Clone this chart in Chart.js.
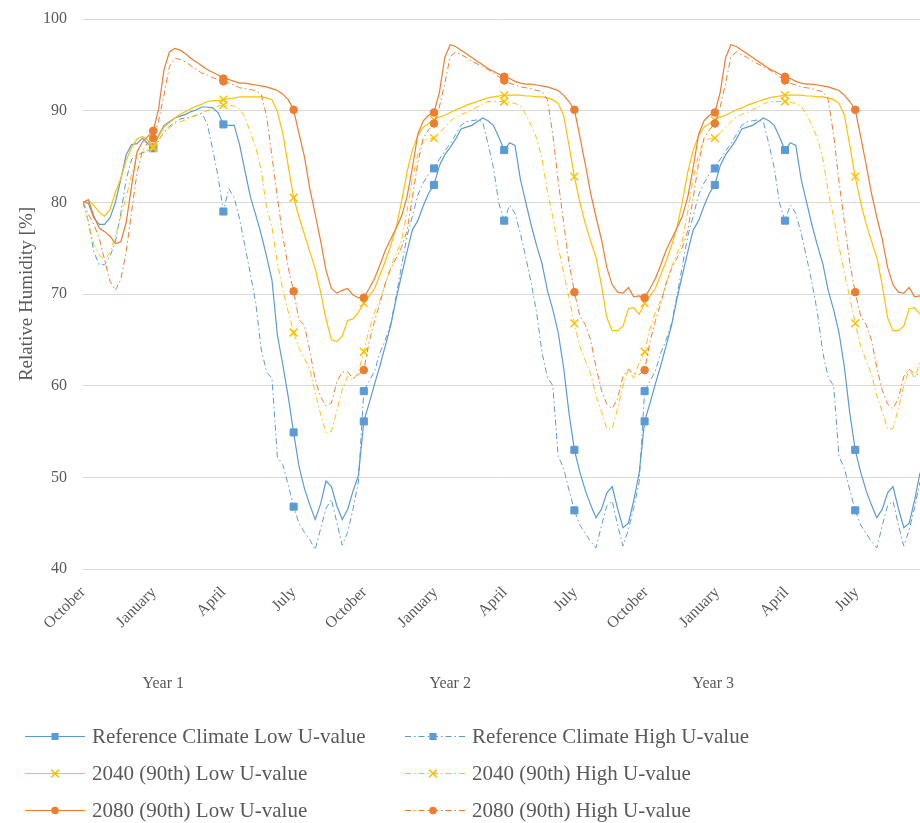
<!DOCTYPE html>
<html>
<head>
<meta charset="utf-8">
<script src="https://cdn.jsdelivr.net/npm/chart.js@4.4.1/dist/chart.umd.min.js"></script>
<style>
  html, body { margin: 0; padding: 0; background: #ffffff; }
  #wrap { width: 920px; height: 823px; }
</style>
</head>
<body>
<div id="wrap"><canvas id="c" width="920" height="823"></canvas></div>
<script>
// ---------------- DATA (weekly readings, day 0 = 1 October, Year 1) ----------------
const tickLabels = ['October','January','April','July','October','January','April','July','October','January','April','July'];
const tickDays   = [0, 92, 182, 273, 365, 457, 547, 638, 730, 822, 912, 1003];
const yearLabels = ['Year 1', 'Year 2', 'Year 3'];
const seriesNames = [
  'Reference Climate Low U-value', 'Reference Climate High U-value',
  '2040 (90th) Low U-value', '2040 (90th) High U-value',
  '2080 (90th) Low U-value', '2080 (90th) High U-value'
];

const refLowY1 = [80,79.9,78.3,77.6,77.6,78.3,80.0,82.5,85.2,86.3,86.4,87.0,86.4,86.0,87.3,88.4,88.8,89.2,89.4,89.6,89.9,90.1,90.4,90.4,90.3,89.8,88.5,88.4,88.4,86.3,83.4,80.6,78.6,76.5,74.1,71.5,65.5,62.3,58.8,54.9,51.2,48.8,47.0,45.4,47.1,49.6,49.0,46.9,45.4,46.5,48.5,50.2];
const refLowY2 = [56.1,58.1,60.2,62.2,64.4,66.6,69.5,72.1,74.6,77.0,78.0,79.6,81.0,81.9,84.0,85.2,86.0,86.9,88.0,88.2,88.4,88.8,89.2,88.9,88.4,87.1,85.7,86.5,86.2,82.5,80.0,77.5,75.3,73.3,70.4,68.3,65.8,62.0,57.0,53.0,50.6,48.6,47.0,45.6,46.5,48.3,49.0,46.6,44.5,45.0,47.5,50.5];
const refLowY3 = [56.1,58.1,60.2,62.2,64.4,66.6,69.5,72.1,74.6,77.0,78.0,79.6,81.0,81.9,84.0,85.2,86.0,86.9,88.0,88.2,88.4,88.8,89.2,88.9,88.4,87.1,85.7,86.5,86.2,82.5,80.0,77.5,75.3,73.3,70.4,68.3,65.8,62.0,57.0,53.0,50.6,48.6,47.0,45.6,46.5,48.3,49.0,46.6,44.5,45.0,47.5,50.5];

const refHighY1 = [80,77.9,74.6,73.2,73.2,74.1,75.7,78.8,82.5,84.7,85.2,85.4,85.6,85.9,86.7,87.7,88.3,88.7,89.1,89.2,89.3,89.5,89.7,88.6,85.8,82.9,79.0,81.5,80.5,78.2,75.2,72.2,69.0,64.0,61.5,60.8,52.2,51.4,49.2,46.8,45.0,44.0,43.2,42.1,44.4,46.6,47.6,45.1,42.6,44.0,46.5,49.5];
const refHighY2 = [59.4,60.5,61.6,63.6,65.0,66.8,69.8,73.1,76.3,78.5,80.8,82.1,83.1,83.7,84.7,85.6,86.4,87.4,88.4,88.8,88.9,89.0,88.8,86.4,83.8,79.9,78.0,79.7,78.8,76.6,74.0,71.2,68.0,63.6,60.9,60.0,52.3,51.0,48.6,46.4,44.8,43.9,43.0,42.3,44.7,46.9,47.4,44.8,42.5,44.3,46.7,49.5];
const refHighY3 = [59.4,60.5,61.6,63.6,65.0,66.8,69.8,73.1,76.3,78.5,80.8,82.1,83.1,83.7,84.7,85.6,86.4,87.4,88.4,88.8,88.9,89.0,88.8,86.4,83.8,79.9,78.0,79.7,78.8,76.6,74.0,71.2,68.0,63.6,60.9,60.0,52.3,51.0,48.6,46.4,44.8,43.9,43.0,42.3,44.7,46.9,47.4,44.8,42.5,44.3,46.7,49.5];

const f2040LowY1 = [80,80.2,79.7,78.9,78.5,79.2,81.1,82.6,84.6,86.0,86.9,87.2,86.8,86.1,87.2,88.2,88.7,89.2,89.6,89.9,90.2,90.5,90.7,91.0,91.1,91.1,91.2,91.3,91.4,91.5,91.5,91.5,91.5,91.5,91.4,91.2,89.9,87.5,84.0,80.5,78.4,76.5,74.6,72.8,70.2,67.3,65.0,64.8,65.4,67.1,67.3,68.0];
const f2040LowY2 = [69.0,69.8,70.6,72.1,73.6,75.3,77.3,80.1,83.3,85.7,87.3,88.2,88.6,89.0,89.3,89.5,89.8,90.1,90.3,90.6,90.8,91.0,91.2,91.4,91.5,91.6,91.7,91.7,91.7,91.7,91.6,91.6,91.5,91.5,91.4,91.2,90.8,89.5,86.2,82.8,80.0,77.7,75.8,74.0,71.0,67.4,66.0,66.0,66.5,68.4,68.5,67.8];
const f2040LowY3 = [69.0,69.8,70.6,72.1,73.6,75.3,77.3,80.1,83.3,85.7,87.3,88.2,88.6,89.0,89.3,89.5,89.8,90.1,90.3,90.6,90.8,91.0,91.2,91.4,91.5,91.6,91.7,91.7,91.7,91.7,91.6,91.6,91.5,91.5,91.4,91.2,90.8,89.5,86.2,82.8,80.0,77.7,75.8,74.0,71.0,67.4,66.0,66.0,66.5,68.4,68.5,67.8];

const f2040HighY1 = [80,77.9,75.4,74.3,73.6,74.6,76.3,78.4,80.6,83.0,85.0,85.5,85.7,85.9,86.8,87.6,88.1,88.6,88.8,89.0,89.3,89.5,89.8,90.0,90.3,90.5,90.6,90.6,90.5,90.2,89.3,87.6,86.0,83.5,79.4,77.3,73.4,70.5,68.1,65.8,64.1,63.0,61.8,59.2,56.9,54.9,55.0,57.2,59.6,61.0,60.6,61.5];
const f2040HighY2 = [63.7,66.2,68.0,69.3,71.1,73.0,74.4,75.8,79.0,82.6,85.2,86.8,86.9,87.0,87.6,88.2,88.8,89.3,89.6,89.8,90.1,90.4,90.7,91.0,91.0,91.0,91.0,90.9,90.8,90.5,89.6,88.4,87.0,84.8,81.2,78.4,75.2,72.3,69.6,66.8,64.3,62.8,61.3,58.9,57.2,55.3,55.3,57.5,60.0,61.8,60.8,62.5];
const f2040HighY3 = [63.7,66.2,68.0,69.3,71.1,73.0,74.4,75.8,79.0,82.6,85.2,86.8,86.9,87.0,87.6,88.2,88.8,89.3,89.6,89.8,90.1,90.4,90.7,91.0,91.0,91.0,91.0,90.9,90.8,90.5,89.6,88.4,87.0,84.8,81.2,78.4,75.2,72.3,69.6,66.8,64.3,62.8,61.3,58.9,57.2,55.3,55.3,57.5,60.0,61.8,60.8,62.5];

const f2080LowY1 = [80,80.3,78.5,77.2,76.8,76.3,75.5,75.7,77.8,81.8,85.5,86.6,87.2,87.8,90.2,94.5,96.4,96.8,96.6,96.2,95.7,95.3,94.9,94.5,94.2,93.9,93.5,93.4,93.2,93.0,93.0,92.9,92.8,92.7,92.6,92.4,92.2,91.8,91.2,90.1,87.5,85.0,81.5,78.7,75.8,72.6,70.6,70.1,70.4,70.6,69.9,69.6];
const f2080LowY2 = [69.6,70.6,71.7,73.2,74.8,76.0,77.2,78.5,80.6,83.8,87.4,88.9,89.5,89.8,92.0,95.8,97.2,97.0,96.6,96.2,95.8,95.4,95.0,94.6,94.3,94.0,93.7,93.5,93.2,93.0,92.9,92.9,92.8,92.7,92.6,92.4,92.2,91.7,91.0,90.1,87.2,84.2,81.0,78.4,76.0,72.9,71.0,70.2,70.1,70.7,69.7,69.8];
const f2080LowY3 = [69.6,70.6,71.7,73.2,74.8,76.0,77.2,78.5,80.6,83.8,87.4,88.9,89.5,89.8,92.0,95.8,97.2,97.0,96.6,96.2,95.8,95.4,95.0,94.6,94.3,94.0,93.7,93.5,93.2,93.0,92.9,92.9,92.8,92.7,92.6,92.4,92.2,91.7,91.0,90.1,87.2,84.2,81.0,78.4,76.0,72.9,71.0,70.2,70.1,70.7,69.7,69.8];

const f2080HighY1 = [80,78.7,77.6,76.1,73.7,71.4,70.4,71.6,74.6,79.0,83.2,85.6,86.5,87.0,88.9,91.7,94.8,95.7,95.6,95.3,94.9,94.5,94.1,93.9,93.6,93.4,93.2,93.0,92.8,92.5,92.4,92.3,92.2,91.8,89.4,85.0,80.5,76.3,72.9,70.3,67.2,66.6,63.8,60.6,58.8,57.8,58.1,60.4,61.5,61.5,60.8,61.2];
const f2080HighY2 = [61.7,64.8,67.1,69.0,71.2,72.8,73.9,75.1,76.9,80.5,84.3,87.0,87.9,88.6,90.4,93.0,95.9,96.4,96.1,95.8,95.4,95.1,94.8,94.5,94.1,93.7,93.3,93.0,92.8,92.6,92.5,92.4,92.2,92.1,91.2,87.4,82.3,77.8,73.4,70.2,67.6,66.7,65.0,62.0,59.5,58.0,57.5,58.6,61.0,61.8,61.3,61.2];
const f2080HighY3 = [61.7,64.8,67.1,69.0,71.2,72.8,73.9,75.1,76.9,80.5,84.3,87.0,87.9,88.6,90.4,93.0,95.9,96.4,96.1,95.8,95.4,95.1,94.8,94.5,94.1,93.7,93.3,93.0,92.8,92.6,92.5,92.4,92.2,92.1,91.2,87.4,82.3,77.8,73.4,70.2,67.6,66.7,65.0,62.0,59.5,58.0,57.5,58.6,61.0,61.8,61.3,61.2];

// ---------------- STYLE / LAYOUT ----------------
const DAYS_PER_STEP = 7;
const X_MAX = 1085;
const BLUE = '#5B9BD5', YELLOW = '#FFC000', ORANGE = '#ED7D31';
const TEXT = '#595959';
const FONT = '"Liberation Serif", "Times New Roman", serif';
const DASH = [6, 3, 1.5, 3];
const MARKER_EVERY = 13;
const yearLabelDays = [104, 476, 817];

function build(a, b, c) {
  return a.concat(b, c).map((v, i) => ({ x: i * DAYS_PER_STEP, y: v }));
}

const seriesData = [
  build(refLowY1, refLowY2, refLowY3),
  build(refHighY1, refHighY2, refHighY3),
  build(f2040LowY1, f2040LowY2, f2040LowY3),
  build(f2040HighY1, f2040HighY2, f2040HighY3),
  build(f2080LowY1, f2080LowY2, f2080LowY3),
  build(f2080HighY1, f2080HighY2, f2080HighY3)
];
const styles = [
  { color: BLUE, dash: [], point: 'rect', r: 5, bw: 1 },
  { color: BLUE, dash: DASH, point: 'rect', r: 5, bw: 1 },
  { color: YELLOW, dash: [], point: 'crossRot', r: 5.5, bw: 1.5 },
  { color: YELLOW, dash: DASH, point: 'crossRot', r: 5.5, bw: 1.5 },
  { color: ORANGE, dash: [], point: 'circle', r: 3.8, bw: 1 },
  { color: ORANGE, dash: DASH, point: 'circle', r: 3.8, bw: 1 }
];

const datasets = seriesData.map((d, k) => {
  const s = styles[k];
  return {
    label: seriesNames[k],
    data: d,
    borderColor: s.color,
    backgroundColor: s.color,
    borderWidth: s.dash.length ? 1 : 1.2,
    borderDash: s.dash,
    tension: 0,
    pointStyle: s.point,
    pointBackgroundColor: s.color,
    pointBorderColor: s.color,
    pointBorderWidth: s.bw,
    pointRadius: (ctx) => (ctx.dataIndex > 0 && ctx.dataIndex % MARKER_EVERY === 0) ? s.r : 0,
    pointHoverRadius: 0,
    order: 6 - k
  };
});

function drawMarker(ctx, style, x, y) {
  ctx.save();
  ctx.fillStyle = style.color;
  ctx.strokeStyle = style.color;
  ctx.setLineDash([]);
  if (style.point === 'rect') {
    const h = style.r * Math.SQRT1_2;
    ctx.fillRect(x - h, y - h, 2 * h, 2 * h);
  } else if (style.point === 'circle') {
    ctx.beginPath(); ctx.arc(x, y, style.r, 0, Math.PI * 2); ctx.fill();
  } else {
    const h = style.r * Math.SQRT1_2;
    ctx.lineWidth = style.bw;
    ctx.beginPath();
    ctx.moveTo(x - h, y - h); ctx.lineTo(x + h, y + h);
    ctx.moveTo(x - h, y + h); ctx.lineTo(x + h, y - h);
    ctx.stroke();
  }
  ctx.restore();
}

const extrasPlugin = {
  id: 'extras',
  afterDraw(chart) {
    const ctx = chart.ctx;
    const xs = chart.scales.x;
    ctx.save();
    ctx.fillStyle = TEXT;
    ctx.font = '16px ' + FONT;
    ctx.textAlign = 'center';
    ctx.textBaseline = 'middle';
    yearLabels.forEach((t, i) => ctx.fillText(t, xs.getPixelForValue(yearLabelDays[i]), 684));
    // legend
    const cols = [{ l0: 25, l1: 85, m: 55, t: 92 }, { l0: 405, l1: 467, m: 433, t: 472 }];
    const rows = [736, 773, 810];
    ctx.font = '21px ' + FONT;
    ctx.textAlign = 'left';
    seriesNames.forEach((name, k) => {
      const c = cols[k % 2], y = rows[Math.floor(k / 2)], s = styles[k];
      ctx.save();
      ctx.strokeStyle = s.color;
      ctx.lineWidth = s.dash.length ? 1 : 1.2;
      ctx.setLineDash(s.dash);
      ctx.beginPath(); ctx.moveTo(c.l0, y + 0.5); ctx.lineTo(c.l1, y + 0.5); ctx.stroke();
      ctx.restore();
      drawMarker(ctx, s, c.m, y + 0.5);
      ctx.fillStyle = TEXT;
      ctx.fillText(name, c.t, y + 1);
    });
    ctx.restore();
  }
};

new Chart(document.getElementById('c'), {
  type: 'line',
  data: { datasets },
  options: {
    responsive: false,
    animation: false,
    devicePixelRatio: 1,
    layout: { padding: { top: 19, left: 0, right: 0, bottom: 0 } },
    plugins: { legend: { display: false }, tooltip: { enabled: false } },
    events: [],
    scales: {
      x: {
        type: 'linear',
        min: 0,
        max: X_MAX,
        afterBuildTicks: (scale) => { scale.ticks = tickDays.map(v => ({ value: v })); },
        afterFit: (scale) => { scale.height = 254; },
        ticks: {
          autoSkip: false,
          minRotation: 45,
          maxRotation: 45,
          padding: 14,
          color: TEXT,
          font: { family: FONT, size: 16 },
          callback: (v, i) => tickLabels[i]
        },
        grid: { display: false, drawTicks: false },
        border: { display: false }
      },
      y: {
        min: 40,
        max: 100,
        afterFit: (scale) => { scale.width = 83; scale.paddingTop = 0; scale.paddingBottom = 0; },
        ticks: {
          stepSize: 10,
          padding: 16,
          color: TEXT,
          font: { family: FONT, size: 16 }
        },
        grid: { color: '#D9D9D9', lineWidth: 1, drawTicks: false },
        border: { display: false },
        title: {
          display: true,
          text: 'Relative Humidity [%]',
          color: TEXT,
          font: { family: FONT, size: 19 },
          padding: { top: 16, bottom: 0 }
        }
      }
    }
  },
  plugins: [extrasPlugin]
});
</script>
</body>
</html>
